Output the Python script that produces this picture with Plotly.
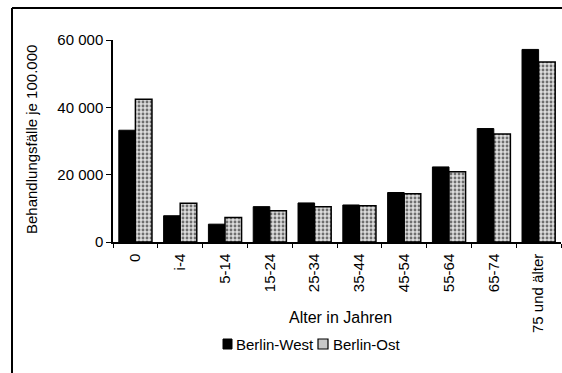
import plotly.graph_objects as go

categories = ["0", "i-4", "5-14", "15-24", "25-34", "35-44", "45-54", "55-64", "65-74", "75 und älter"]
west = [33200, 7800, 5300, 10500, 11600, 11000, 14700, 22300, 33700, 57200]
ost = [42400, 11500, 7300, 9300, 10500, 10800, 14300, 20900, 32100, 53500]
ytickvals = [0, 20000, 40000, 60000]
yticktext = ["0", "20 000", "40 000", "60 000"]
series_names = ["Berlin-West", "Berlin-Ost"]

W, H = 562, 373
L, R, T, B = 113, 1, 40, 131
pw = W - L - R
ph = H - T - B

def px(x):
    return (x - L) / pw

def py(y):
    return (H - B - y) / ph

font = "Liberation Sans, Arial, sans-serif"
ost_pattern = dict(shape=".", fgcolor="black", bgcolor="#dcdcdc", size=4, solidity=0.4)

fig = go.Figure()
fig.add_trace(go.Bar(
    x=categories, y=west, name=series_names[0], showlegend=False,
    marker=dict(color="black", line=dict(color="black", width=1)),
))
fig.add_trace(go.Bar(
    x=categories, y=ost, name=series_names[1], showlegend=False,
    marker=dict(color="white", line=dict(color="black", width=1.5), pattern=ost_pattern),
))

fig.update_layout(
    width=W, height=H,
    margin=dict(l=L, r=R, t=T, b=B),
    paper_bgcolor="white", plot_bgcolor="white",
    barmode="group", bargap=0.26, bargroupgap=0.0,
    font=dict(family=font, size=15, color="black"),
    showlegend=False,
    xaxis=dict(type="category", tickangle=-90, showline=True, linecolor="black", linewidth=1.5,
               ticks="outside", ticklen=4, tickcolor="black", tickson="boundaries",
               ticklabelstandoff=4,
               tickfont=dict(size=15), showgrid=False, zeroline=False),
    yaxis=dict(range=[0, 60000], tickvals=ytickvals, ticktext=yticktext, showline=True,
               linecolor="black", linewidth=1.5, ticks="outside", ticklen=5, tickcolor="black",
               tickfont=dict(size=15), showgrid=False, zeroline=False),
)

fig.add_annotation(text="Behandlungsfälle je 100.000", xref="paper", yref="paper",
                   x=px(31), y=py(140), textangle=-90, showarrow=False,
                   font=dict(size=15), xanchor="center", yanchor="middle")
fig.add_annotation(text="Alter in Jahren", xref="paper", yref="paper",
                   x=px(340), y=py(317), showarrow=False,
                   font=dict(size=16), xanchor="center", yanchor="middle")

# legend drawn manually (compact, as in the reference)
fig.add_shape(type="rect", xref="paper", yref="paper", x0=px(223), x1=px(232), y0=py(349), y1=py(339),
              fillcolor="black", line=dict(color="black", width=1))
fig.add_annotation(text=series_names[0], xref="paper", yref="paper", x=px(234), y=py(344),
                   xanchor="left", yanchor="middle", showarrow=False, font=dict(size=15))
fig.add_shape(type="rect", xref="paper", yref="paper", x0=px(318), x1=px(328), y0=py(349), y1=py(339),
              fillcolor="#c8c8c8", line=dict(color="black", width=1.2))
fig.add_annotation(text=series_names[1], xref="paper", yref="paper", x=px(331), y=py(344),
                   xanchor="left", yanchor="middle", showarrow=False, font=dict(size=15))

# outer frame lines
fig.add_shape(type="line", xref="paper", yref="paper", x0=px(12), x1=px(562), y0=py(8), y1=py(8),
              line=dict(color="black", width=2))
fig.add_shape(type="line", xref="paper", yref="paper", x0=px(12), x1=px(12), y0=py(8), y1=py(373),
              line=dict(color="black", width=2))

fig.write_html("out.html")
